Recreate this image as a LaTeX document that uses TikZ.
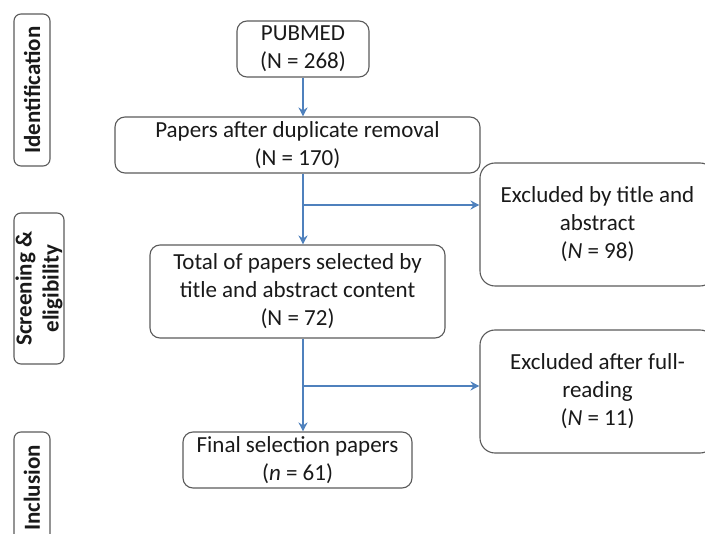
\documentclass[tikz,border=0pt]{standalone}
\usepackage{fontspec}
\setmainfont{Carlito}
\usepackage{tikz}
\usetikzlibrary{calc, arrows.meta, positioning}
\definecolor{flowblue}{RGB}{79,129,189}
\definecolor{boxgray}{RGB}{90,90,90}
\tikzstyle{box} =[draw=boxgray, line width=1.1pt, rounded corners=10pt, align=center, inner sep=0pt, text=black!90, font=\fontsize{23}{28}\selectfont]
\tikzstyle{phase} =[draw=boxgray, line width=1.1pt, rounded corners=7pt, rotate=90, align=center, inner sep=0pt, text=black!90, font=\bfseries\fontsize{23}{27}\selectfont]
\tikzstyle{flow} =[-{Stealth[length=9pt,width=9pt,inset=3pt]}, flowblue, line width=1.6pt]

\begin{document}
\begin{tikzpicture}[x=1pt, y=-1pt]
        \useasboundingbox (0,0) rectangle (705,534);
        \clip (0,0) rectangle (705,534);

        % Phases
        \node[phase, minimum width=152, minimum height=36] (ident) at (32,90) {Identification};
        \node[phase, minimum width=151, minimum height=50] (screen) at (39,288.5) {Screening \&\\eligibility};
        \node[phase, minimum width=112, minimum height=36] (incl) at (32,488) {Inclusion};

        %% Boxes
        \node[box, minimum width=132, minimum height=56] (pub) at (303,49) {PUBMED\\(N = 268)};
        \node[box, minimum width=365, minimum height=56] (dup) at (297.5,145) {Papers after duplicate removal\\(N = 170)};
        \node[box, minimum width=295, minimum height=93] (tot) at (297.5,291.5) {Total of papers selected by\\title and abstract content\\(N = 72)};
        \node[box, minimum width=229, minimum height=56] (fin) at (297.5,460) {Final selection papers\\(\textit{n} = 61)};
        \node[box, rounded corners=15pt, minimum width=235, minimum height=123] (exa) at (597.5,224.5) {Excluded by title and\\abstract\\(\textit{N} = 98)};
        \node[box, rounded corners=15pt, minimum width=235, minimum height=123] (exb) at (597.5,391.5) {Excluded after full-\\reading\\(\textit{N} = 11)};

        % Branch points
        \coordinate (bra) at (303,205);
        \coordinate (brb) at (303,386);

        %% Arrows
        \draw[flow] (pub.south) -- (pub.south |- dup.north);
        \draw[flow] (pub.south |- dup.south) -- (pub.south |- tot.north);
        \draw[flow] (bra) -- (bra -| exa.west);
        \draw[flow] (pub.south |- tot.south) -- (pub.south |- fin.north);
        \draw[flow] (brb) -- (brb -| exb.west);

    \end{tikzpicture}
\end{document}
